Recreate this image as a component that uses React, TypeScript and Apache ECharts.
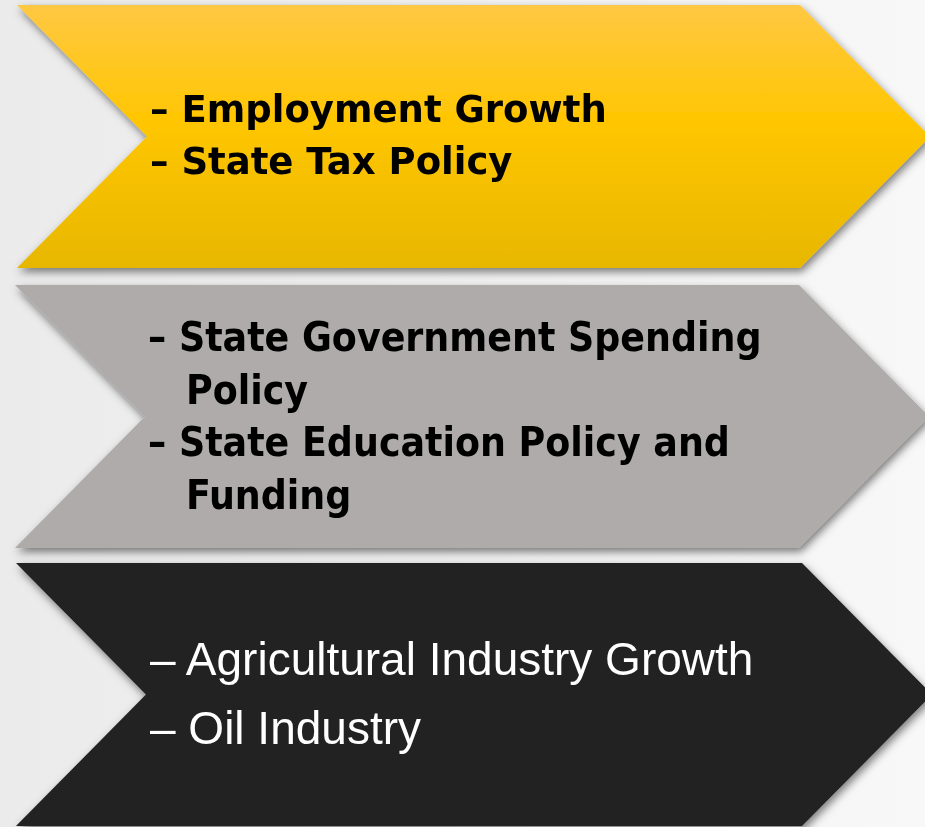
import React, { useEffect, useRef } from "react";
import * as echarts from "echarts";

// Content of the three chevrons (top to bottom)
const yellowLines = ["– Employment Growth", "– State Tax Policy"];
const grayLines = ["– State Government Spending", "Policy", "– State Education Policy and", "Funding"];
const grayIndent = [false, true, false, true];
const blackLines = ["– Agricultural Industry Growth", "– Oil Industry"];

const W = 925;
const H = 827;

function chevron(left: number, top: number, shoulder: number, bottom: number, depth: number) {
  const mid = (top + bottom) / 2;
  return [
    [left, top],
    [shoulder, top],
    [shoulder + depth, mid],
    [shoulder, bottom],
    [left, bottom],
    [left + depth, mid],
  ];
}

export default function App() {
  const ref = useRef<HTMLDivElement>(null);
  useEffect(() => {
    if (!ref.current) return;
    const chart = echarts.init(ref.current, undefined, { renderer: "svg", width: W, height: H });

    const shadow = {
      shadowBlur: 8,
      shadowOffsetX: 2,
      shadowOffsetY: 4,
      shadowColor: "rgba(0,0,0,0.5)",
    };

    const elements: any[] = [];
    elements.push({
      type: "rect",
      shape: { x: 0, y: 0, width: W, height: H },
      style: {
        fill: new echarts.graphic.LinearGradient(0, 0, 1, 0, [
          { offset: 0, color: "#ebebeb" },
          { offset: 0.5, color: "#f1f1f1" },
          { offset: 1, color: "#f8f8f8" },
        ]),
      },
      z: 0,
    });

    elements.push({
      type: "polygon",
      shape: { points: chevron(17, 5, 800, 268, 130) },
      style: {
        fill: new echarts.graphic.LinearGradient(0, 0, 0, 1, [
          { offset: 0, color: "#ffc843" },
          { offset: 0.45, color: "#ffc600" },
          { offset: 1, color: "#e7b700" },
        ]),
        ...shadow,
      },
      z: 1,
    });
    elements.push({
      type: "polygon",
      shape: { points: chevron(15, 285, 799, 548, 130) },
      style: { fill: "#aeabaa", ...shadow },
      z: 1,
    });
    elements.push({
      type: "polygon",
      shape: { points: chevron(16, 563, 802, 826, 130) },
      style: { fill: "#202020", ...shadow },
      z: 1,
    });

    const yCenters = [109, 161];
    yellowLines.forEach((t, i) => {
      elements.push({
        type: "text",
        x: 150,
        y: yCenters[i],
        style: {
          text: t,
          fill: "#000",
          font: "bold 37px 'DejaVu Sans'",
          verticalAlign: "middle",
          align: "left",
        },
        z: 2,
      });
    });

    const gCenters = [337, 389.5, 442, 494.5];
    grayLines.forEach((t, i) => {
      elements.push({
        type: "text",
        x: grayIndent[i] ? 186 : 148,
        y: gCenters[i],
        style: {
          text: t,
          fill: "#000",
          font: "bold 40.5px 'DejaVu Sans Condensed', 'DejaVu Sans'",
          verticalAlign: "middle",
          align: "left",
        },
        z: 2,
      });
    });

    const bCenters = [659, 728];
    blackLines.forEach((t, i) => {
      elements.push({
        type: "text",
        x: 150,
        y: bCenters[i],
        style: {
          text: t,
          fill: "#fff",
          font: "46px 'Liberation Sans'",
          verticalAlign: "middle",
          align: "left",
        },
        z: 2,
      });
    });

    chart.setOption({
      animation: false,
      graphic: { elements },
    });
    return () => chart.dispose();
  }, []);

  return (
    <div
      ref={ref}
      style={{ position: "fixed", left: 0, top: 0, width: W, height: H, overflow: "hidden" }}
    />
  );
}
